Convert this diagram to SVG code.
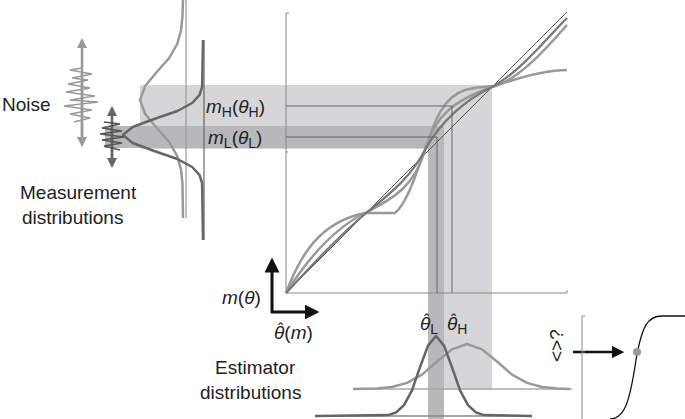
<svg xmlns="http://www.w3.org/2000/svg" width="685" height="419" viewBox="0 0 685 419">
<defs>
<style>
text{font-family:"Liberation Sans",Arial,sans-serif;font-size:19px;fill:#222}
.i{font-style:italic}
.hat{font-size:16px}
.ax{stroke:#888;stroke-width:1;fill:none}
.thin{stroke:#666;stroke-width:1;fill:none}
.lc{stroke:#999;stroke-width:2.5;fill:none;stroke-linejoin:round}
.dc{stroke:#666;stroke-width:2.5;fill:none;stroke-linejoin:round}
</style>
<marker id="ah" viewBox="0 0 10 10" refX="5" refY="5" markerWidth="5" markerHeight="5" orient="auto"><path d="M0,0L10,5L0,10z" fill="#111"/></marker>
<marker id="gl" viewBox="0 0 10 10" refX="8" refY="5" markerWidth="4" markerHeight="4" orient="auto"><path d="M0,0L10,5L0,10z" fill="#999"/></marker>
<marker id="gd" viewBox="0 0 10 10" refX="8" refY="5" markerWidth="4" markerHeight="4" orient="auto"><path d="M0,0L10,5L0,10z" fill="#666"/></marker>
</defs>
<g id="bands">
<rect x="140" y="85" width="352" height="64" fill="#d6d6d8"/>
<rect x="428" y="85" width="64" height="305" fill="#d6d6d8"/>
<rect x="105" y="126" width="339" height="22" fill="#b8b8bb"/>
<rect x="428" y="126" width="16" height="293" fill="#b8b8bb"/>
</g>
<g id="measurement">
<line x1="186" y1="0" x2="186" y2="218" class="lc" style="stroke-width:1.2"/>
<polyline class="lc" points="183,0 182.5,16 181.1,30 177.2,44 169.2,58 156.8,72 145.2,86 140,100 145.2,114 156.8,128 169.2,142 177.2,156 181.1,170 182.5,184 183,218"/>
<line x1="204" y1="40" x2="204" y2="240" class="dc" style="stroke-width:1.2"/>
<polyline class="dc" points="203,40 202.1,87 199.5,95 192.2,103 177.4,111 154.2,119 132.6,127 123,135 132.6,143 154.2,151 177.4,159 192.2,167 199.5,175 202.1,183 203,240"/>
<text x="2" y="111">Noise</text>
<text x="20" y="199">Measurement</text>
<text x="22" y="224">distributions</text>
<line x1="82" y1="140" x2="82" y2="40" stroke="#999" stroke-width="2.5" marker-end="url(#gl)"/>
<line x1="82" y1="80" x2="82" y2="145" stroke="#999" stroke-width="2.5" marker-end="url(#gl)"/>
<path d="M82,68 L70,70 L92,74 L72,78 L88,80 L68,84 L90,88 L66,92 L95,96 L70,100 L98,102 L64,106 L92,110 L70,114 L90,118 L74,122" stroke="#999" stroke-width="1.5" fill="none"/>
<line x1="112" y1="160" x2="112" y2="108" stroke="#666" stroke-width="2.5" marker-end="url(#gd)"/>
<line x1="112" y1="130" x2="112" y2="166" stroke="#666" stroke-width="2.5" marker-end="url(#gd)"/>
<path d="M104,122 L120,124 L102,128 L122,131 L100,134 L124,137 L102,140 L122,143 L104,146 L120,150" stroke="#555" stroke-width="1.5" fill="none"/>
</g>
<g id="labels">
<text x="206" y="113"><tspan class="i">m</tspan><tspan font-size="14" dy="4">H</tspan><tspan dy="-4">(</tspan><tspan class="i">θ</tspan><tspan font-size="14" dy="4">H</tspan><tspan dy="-4">)</tspan></text>
<text x="208" y="144"><tspan class="i">m</tspan><tspan font-size="14" dy="4">L</tspan><tspan dy="-4">(</tspan><tspan class="i">θ</tspan><tspan font-size="14" dy="4">L</tspan><tspan dy="-4">)</tspan></text>
</g>
<g id="plot">
<path class="ax" d="M289,13 H286 V293 H567 V290"/>
<path class="ax" d="M286,152 H288"/>
<line x1="286" y1="293" x2="567" y2="12" stroke="#555" stroke-width="1"/>
<path class="lc" d="M286,293 C300,255 320,222 365,213 L395,213 C410,200 420,160 425,150 C432,130 440,98 465,90 C480,86 488,87 495,86 C520,78 545,50 567,25"/>
<path class="lc" d="M286,293 C310,255 335,228 365,213 C395,198 415,185 425,150 C435,115 455,100 492,87 C520,77 545,70 567,70"/>
<path stroke="#777" stroke-width="2.2" fill="none" d="M286,293 C315,262 340,235 365,214 C395,190 412,175 425,150 C440,122 465,100 492,87 C520,72 545,40 567,18"/>
</g>
<g id="connectors">
<path class="thin" d="M286,106 H452 V293"/>
<path class="thin" d="M286,137 H437 V293"/>
<line x1="272" y1="313" x2="272" y2="265" stroke="#111" stroke-width="3" marker-end="url(#ah)"/>
<line x1="271" y1="312" x2="312" y2="312" stroke="#111" stroke-width="3" marker-end="url(#ah)"/>
<line x1="573" y1="352" x2="618" y2="352" stroke="#111" stroke-width="2.5" marker-end="url(#ah)"/>
</g>
<g id="axislabels">
<text x="222" y="304"><tspan class="i">m</tspan>(<tspan class="i">θ</tspan>)</text>
<text x="274" y="339"><tspan class="i">θ</tspan>(<tspan class="i">m</tspan>)</text>
<text x="278" y="335" class="hat">ˆ</text>
<text x="420" y="330"><tspan class="i">θ</tspan><tspan font-size="14" dy="4">L</tspan></text>
<text x="424" y="326" class="hat">ˆ</text>
<text x="447" y="330"><tspan class="i">θ</tspan><tspan font-size="14" dy="4">H</tspan></text>
<text x="451" y="326" class="hat">ˆ</text>
</g>
<g id="estimator">
<text x="215" y="374">Estimator</text>
<text x="200" y="399">distributions</text>
<line x1="353" y1="389" x2="572" y2="389" stroke="#aaa" stroke-width="1.5"/>
<polyline class="lc" points="353,389 377,388.5 392,387 407,382.9 422,374.6 437,361.5 452,349.4 467,344 482,349.4 497,361.5 512,374.6 527,382.9 542,387 557,388.5 570,389"/>
<line x1="315" y1="416" x2="532" y2="416" stroke="#888" stroke-width="1.5"/>
<polyline class="dc" points="315,416 388,415.1 396,412.5 404,405.2 412,390.4 420,367.2 428,345.6 436,336 444,345.6 452,367.2 460,390.4 468,405.2 476,412.5 484,415.1 532,416"/>
</g>
<g id="psychometric">
<path class="ax" d="M585,316 H582 V419"/>
<path class="ax" d="M582,352 H585"/>
<path stroke="#111" stroke-width="1.3" fill="none" d="M610,419 C625,419 630,400 636,360 C642,325 648,316 662,316 H685"/>
<circle cx="637" cy="352" r="4" fill="#999"/>
<text transform="translate(563,362) rotate(-90)" font-size="17">&lt;&gt;?</text>
</g>
</svg>
